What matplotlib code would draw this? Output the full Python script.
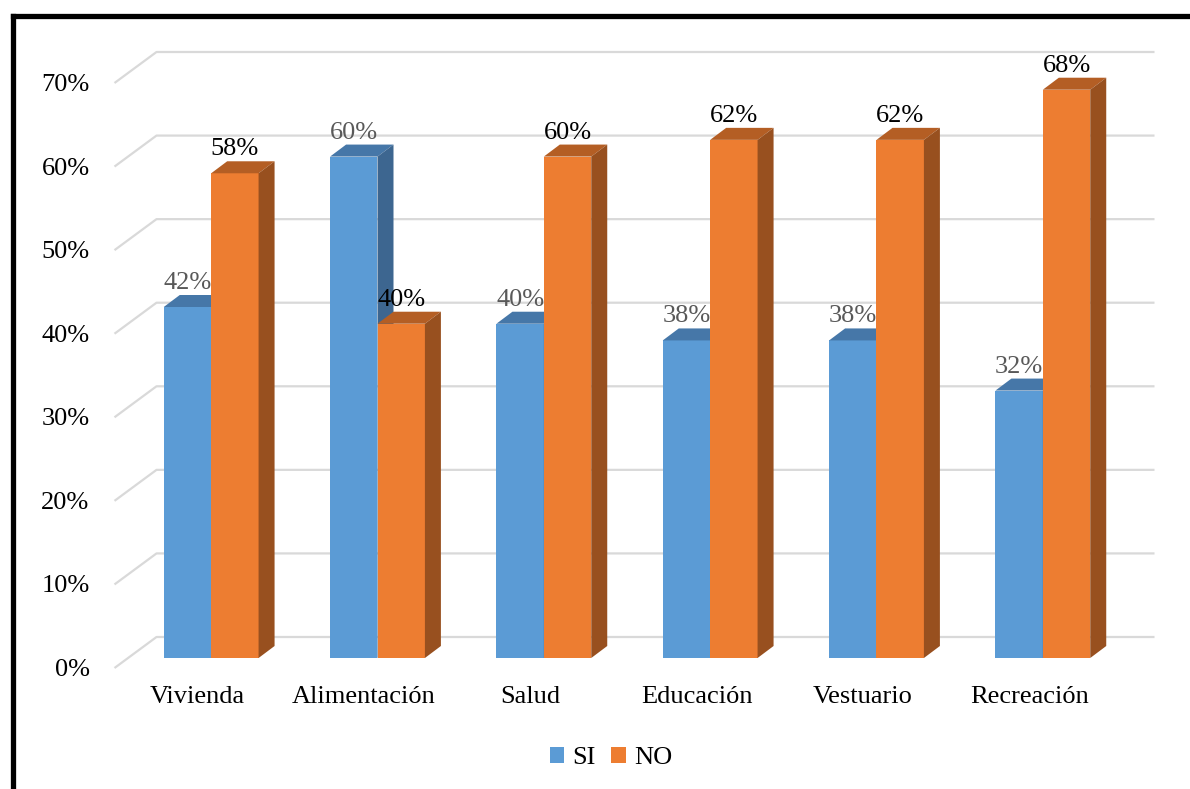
import matplotlib
matplotlib.use("Agg")
import matplotlib.pyplot as plt
from matplotlib.patches import Polygon, Patch
from matplotlib.lines import Line2D

# --- data -------------------------------------------------------------
categories = ["Vivienda", "Alimentación", "Salud", "Educación", "Vestuario", "Recreación"]
si_values = [42, 60, 40, 38, 38, 32]
no_values = [58, 40, 60, 62, 62, 68]
series_names = ["SI", "NO"]
y_ticks = [0, 10, 20, 30, 40, 50, 60, 70]
y_tick_labels = ["0%", "10%", "20%", "30%", "40%", "50%", "60%", "70%"]

# --- style ------------------------------------------------------------
FONT = "Liberation Serif"
FS = 19
BLUE_FRONT, BLUE_TOP, BLUE_SIDE = "#5B9BD5", "#4677A8", "#3D6690"
ORANGE_FRONT, ORANGE_TOP, ORANGE_SIDE = "#ED7D31", "#B45E24", "#98501F"
GRID = "#D9D9D9"

W_PX, H_PX, DPI = 1190, 789, 100
fig = plt.figure(figsize=(W_PX / DPI, H_PX / DPI), dpi=DPI)
fig.patch.set_facecolor("white")

# plot plane of the bar fronts (in pixels of the figure)
left_px, right_px = 128, 1126
bottom_px, top_px = 658, 73
ax = fig.add_axes([left_px / W_PX, 1 - bottom_px / H_PX,
                   (right_px - left_px) / W_PX, (bottom_px - top_px) / H_PX])
n = len(categories)
ax.set_xlim(-0.5, n - 0.5)
ax.set_ylim(0, 70)
ax.axis("off")

px_x = (right_px - left_px) / n        # pixels per x unit
px_y = (bottom_px - top_px) / 70.0     # pixels per y unit


def dx(p):
    return p / px_x


def dy(p):
    return p / px_y


# depth offsets in pixels
bar_dx, bar_dy = 16, 12          # depth of each bar
front_dx, front_dy = -13.5, -10  # floor front edge relative to bar plane
back_dx, back_dy = 28.5, 21      # back wall relative to bar plane

# gridlines: diagonal on the side wall + horizontal on the back wall
for t, lab in zip(y_ticks, y_tick_labels):
    x0, y0 = -0.5 + dx(front_dx), t + dy(front_dy)
    x1, y1 = -0.5 + dx(back_dx), t + dy(back_dy)
    x2 = n - 0.5 + dx(back_dx)
    ax.plot([x0, x1, x2], [y0, y1, y1], color=GRID, lw=1.6,
            zorder=1, clip_on=False, solid_capstyle="butt")
    ax.text(x0 - dx(25), y0 + dy(-2), lab, ha="right", va="center",
            fontsize=FS, family=FONT, color="black", clip_on=False)

bw = 0.285
xs = list(range(n))


def draw_bars(offset, values, front, top, side, label_color):
    pos = [x + offset for x in xs]
    ax.bar(pos, values, width=bw, color=front, zorder=3, linewidth=0)
    for p, v in zip(pos, values):
        xl, xr = p - bw / 2, p + bw / 2
        ox, oy = dx(bar_dx), dy(bar_dy)
        ax.add_patch(Polygon([(xl, v), (xr, v), (xr + ox, v + oy), (xl + ox, v + oy)],
                             closed=True, facecolor=top, edgecolor="none",
                             zorder=3, clip_on=False))
        ax.add_patch(Polygon([(xr, 0), (xr + ox, oy), (xr + ox, v + oy), (xr, v)],
                             closed=True, facecolor=side, edgecolor="none",
                             zorder=3, clip_on=False))
        ax.text(p, v + oy + dy(1), f"{v}%", ha="center", va="bottom",
                fontsize=FS, family=FONT, color=label_color, zorder=5,
                clip_on=False)


draw_bars(-bw / 2, si_values, BLUE_FRONT, BLUE_TOP, BLUE_SIDE, "#595959")
draw_bars(bw / 2, no_values, ORANGE_FRONT, ORANGE_TOP, ORANGE_SIDE, "black")

# category labels below the floor front edge
for x, c in zip(xs, categories):
    ax.text(x + dx(front_dx), dy(front_dy) - dy(29), c, ha="center", va="center",
            fontsize=FS, family=FONT, color="black", clip_on=False)

# legend
handles = [Patch(facecolor=BLUE_FRONT, edgecolor="none"),
           Patch(facecolor=ORANGE_FRONT, edgecolor="none")]
fig.legend(handles, series_names, loc="center", ncol=2,
           bbox_to_anchor=(611 / W_PX, 1 - 758 / H_PX), frameon=False,
           prop={"family": FONT, "size": FS}, handlelength=0.55,
           handleheight=0.55, handletextpad=0.3, columnspacing=0.6,
           borderpad=0)

# outer frame (left and top edges)
fx, fy = 12.5 / W_PX, 1 - 16 / H_PX
fig.add_artist(Line2D([fx, fx], [-0.02, fy], transform=fig.transFigure,
                      color="black", lw=3.8, solid_capstyle="projecting"))
fig.add_artist(Line2D([fx, 1.02], [fy, fy], transform=fig.transFigure,
                      color="black", lw=3.8, solid_capstyle="projecting"))

fig.savefig("out.png", dpi=DPI)
